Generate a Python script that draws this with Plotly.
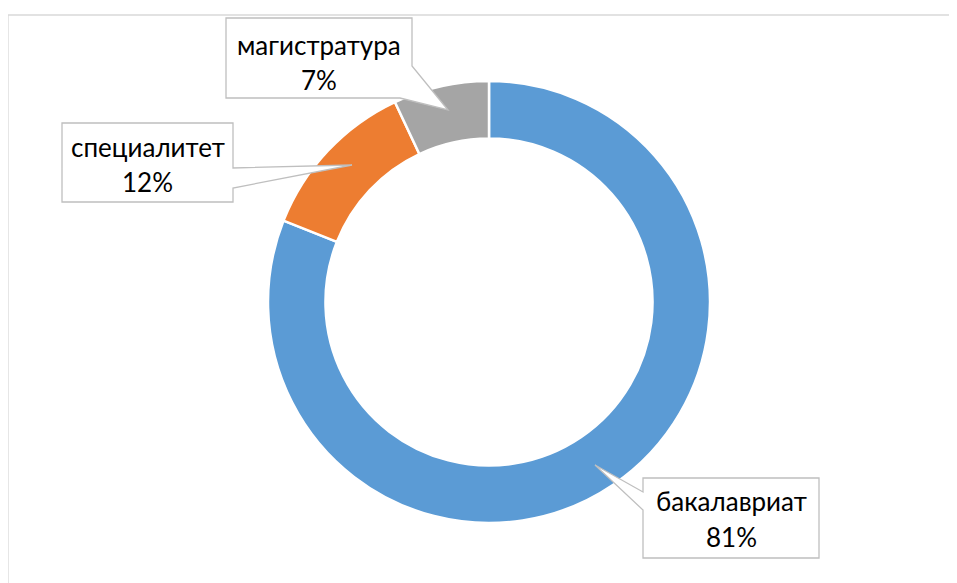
import plotly.graph_objects as go

categories = ["бакалавриат", "специалитет", "магистратура"]
values = [81, 12, 7]
colors = ["#5B9BD5", "#ED7D31", "#A5A5A5"]

W, H = 957, 583
OFF = 8  # page body margin offset

def px(x):
    return (x - OFF) / W

def py(y):
    return 1 - (y - OFF) / H

fig = go.Figure()
fig.add_trace(go.Pie(
    labels=categories, values=values, sort=False, direction="clockwise", rotation=0,
    hole=0.74, textinfo="none", hoverinfo="label+percent",
    marker=dict(colors=colors, line=dict(color="white", width=2.5)),
    domain=dict(x=[px(268), px(710)], y=[py(523), py(81)]),
    showlegend=False,
))

# callout boxes: box (x0, y0, x1, y1), polygon points, line centres
callouts = [
    (2, (226, 18, 412, 98), [(226, 18), (412, 18), (412, 66), (448, 110), (400, 98), (226, 98)], (45, 80)),
    (1, (62, 123, 233, 202), [(62, 123), (233, 123), (233, 168), (352, 165), (233, 188), (233, 202), (62, 202)], (147, 182)),
    (0, (643, 478, 819, 558), [(643, 478), (819, 478), (819, 558), (643, 558), (643, 510), (595, 465), (643, 492)], (501, 537)),
]
shapes = [dict(type="rect", xref="paper", yref="paper", x0=px(8), y0=py(15), x1=px(1000), y1=py(700),
               line=dict(color="#D9D9D9", width=1.3), fillcolor="rgba(0,0,0,0)", layer="below")]
annotations = []
for idx, box, pts, (ly1, ly2) in callouts:
    path = "M " + " L ".join(f"{px(x):.5f},{py(y):.5f}" for x, y in pts) + " Z"
    shapes.append(dict(type="path", xref="paper", yref="paper", path=path,
                       fillcolor="white", line=dict(color="#BFBFBF", width=1.3), layer="above"))
    cx = (box[0] + box[2]) / 2
    for txt, ly in ((categories[idx], ly1), (f"{values[idx]}%", ly2)):
        annotations.append(dict(
            x=px(cx), y=py(ly), xref="paper", yref="paper",
            text=txt, showarrow=False,
            font=dict(family="Lato, Open Sans, sans-serif", size=26, color="#000000"),
            align="center", xanchor="center", yanchor="middle",
        ))

fig.update_layout(
    width=W, height=H, margin=dict(l=0, r=0, t=0, b=0),
    paper_bgcolor="white", plot_bgcolor="white",
    shapes=shapes, annotations=annotations,
)
fig.write_html("out.html")
